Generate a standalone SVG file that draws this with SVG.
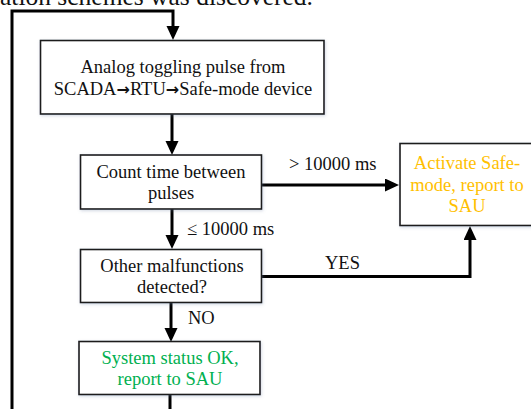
<svg xmlns="http://www.w3.org/2000/svg" width="531" height="409" viewBox="0 0 531 409">
<style>
text{font-family:"Liberation Serif","Times New Roman",serif;font-size:18.5px;fill:#111}
.c{text-anchor:middle}
.ar{font-family:"DejaVu Sans",sans-serif;font-weight:bold;font-size:16px}
.box{fill:#fff;stroke:#1a1a1a;stroke-width:1.6;filter:url(#sh)}
.conn{fill:none;stroke:#000;stroke-width:3;stroke-linejoin:miter}
.org{fill:#FFC000}
.grn{fill:#00B050}
</style>
<defs>
<marker id="ah" markerUnits="userSpaceOnUse" markerWidth="15" markerHeight="14" refX="0" refY="6.5" orient="auto">
<path d="M0,0 L14,6.5 L0,13 z" fill="#000"/>
</marker>
<filter id="sh" x="-10%" y="-10%" width="120%" height="130%">
<feDropShadow dx="0.8" dy="1.2" stdDeviation="1.5" flood-color="#6a7fa0" flood-opacity="0.3"/>
</filter>
</defs>
<text x="0" y="5" style="font-size:25.5px">ation schemes was discovered.</text>
<g id="connectors">
<path class="conn" d="M12,409 V11 H173 V26" marker-end="url(#ah)"/>
<path class="conn" d="M172,114 V141" marker-end="url(#ah)"/>
<path class="conn" d="M262,185 H385" marker-end="url(#ah)"/>
<path class="conn" d="M172,209 V235" marker-end="url(#ah)"/>
<path class="conn" d="M171,303 V328" marker-end="url(#ah)"/>
<path class="conn" d="M262,276.5 H470 V240" marker-end="url(#ah)"/>
<path class="conn" d="M170,394.5 V409"/>
<text x="289" y="170">&gt; 10000 ms</text>
<text x="187" y="235">≤ 10000 ms</text>
<text x="325" y="269">YES</text>
<text x="188" y="324">NO</text>
</g>
<g id="n1">
<rect class="box" x="40.5" y="40.5" width="283.5" height="73.5"/>
<text class="c" x="183" y="73">Analog toggling pulse from</text>
<text class="c" x="183" y="94.5">SCADA<tspan class="ar">→</tspan>RTU<tspan class="ar">→</tspan>Safe-mode device</text>
</g>
<g id="n2">
<rect class="box" x="80.5" y="155" width="181" height="54"/>
<text class="c" x="171" y="177.5">Count time between</text>
<text class="c" x="171" y="199">pulses</text>
</g>
<g id="n3">
<rect class="box" x="400" y="143.5" width="134" height="82"/>
<text class="c org" x="467" y="169">Activate Safe-</text>
<text class="c org" x="467" y="190.5">mode, report to</text>
<text class="c org" x="467" y="212">SAU</text>
</g>
<g id="n4">
<rect class="box" x="80.5" y="249.5" width="181" height="53"/>
<text class="c" x="172" y="272">Other malfunctions</text>
<text class="c" x="172" y="293">detected?</text>
</g>
<g id="n5">
<rect class="box" x="79" y="341.5" width="181" height="53"/>
<text class="c grn" x="170" y="363.5">System status OK,</text>
<text class="c grn" x="170" y="384.5">report to SAU</text>
</g>
</svg>
